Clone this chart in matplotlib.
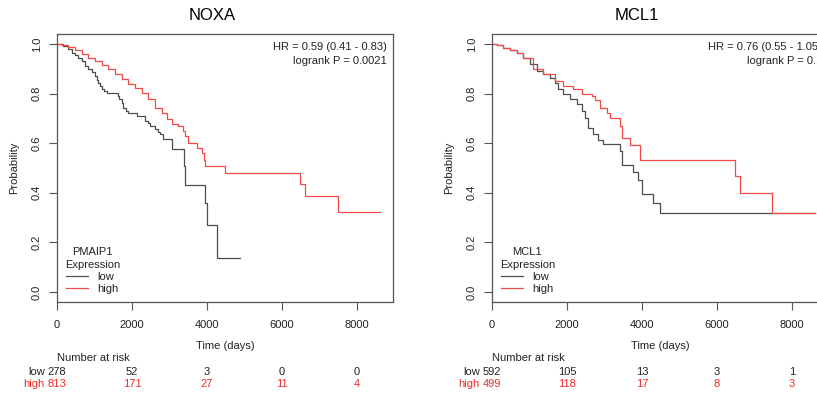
import numpy as np
import matplotlib
matplotlib.use("Agg")
import matplotlib.pyplot as plt
import matplotlib.transforms as mtransforms

plt.rcParams['font.family'] = ['Liberation Sans', 'DejaVu Sans']

# ---- NOXA (PMAIP1) survival curves: time (days), survival probability ----
noxa_low_t = [0, 170, 300, 400, 480, 560, 658, 750, 836, 920, 1013, 1060, 1102, 1150, 1191,
              1260, 1324, 1636, 1660, 1720, 1769, 1850, 1902, 2124, 2347, 2420, 2480, 2613,
              2700, 2747, 2836, 3058, 3380, 3420, 3947, 3990, 4265, 4880]
noxa_low_s = [1.0, 0.99, 0.978, 0.965, 0.955, 0.945, 0.93, 0.912, 0.898, 0.885, 0.87, 0.855,
              0.843, 0.83, 0.817, 0.81, 0.804, 0.79, 0.777, 0.76, 0.743, 0.73, 0.722, 0.71,
              0.69, 0.68, 0.669, 0.656, 0.645, 0.636, 0.615, 0.575, 0.51, 0.433, 0.36, 0.271,
              0.136, 0.136]
noxa_high_t = [0, 125, 302, 480, 658, 836, 1013, 1191, 1369, 1547, 1725, 1902, 2080, 2258,
               2436, 2613, 2791, 2924, 3058, 3236, 3369, 3413, 3502, 3724, 3858, 3920, 3947,
               4470, 6470, 6600, 7480, 8613]
noxa_high_s = [1.0, 0.995, 0.988, 0.974, 0.961, 0.945, 0.931, 0.915, 0.898, 0.877, 0.857,
               0.837, 0.824, 0.804, 0.777, 0.743, 0.723, 0.696, 0.676, 0.669, 0.649, 0.629,
               0.601, 0.58, 0.56, 0.533, 0.509, 0.481, 0.434, 0.386, 0.322, 0.322]

# ---- MCL1 survival curves ----
mcl1_low_t = [0, 125, 302, 480, 658, 836, 1013, 1191, 1369, 1547, 1680, 1769, 1902, 2080,
              2258, 2391, 2480, 2569, 2702, 2836, 2969, 3413, 3470, 3769, 3902, 3991, 4290,
              4470, 8600]
mcl1_low_s = [1.0, 0.996, 0.985, 0.974, 0.965, 0.945, 0.918, 0.891, 0.877, 0.864, 0.844,
              0.817, 0.797, 0.777, 0.757, 0.73, 0.703, 0.662, 0.636, 0.614, 0.598, 0.567,
              0.511, 0.483, 0.45, 0.395, 0.36, 0.317, 0.317]
mcl1_high_t = [0, 125, 302, 480, 658, 836, 1102, 1369, 1680, 1902, 2169, 2391, 2658, 2747,
               2880, 3058, 3147, 3413, 3470, 3680, 3947, 6480, 6600, 7475, 8613]
mcl1_high_s = [1.0, 0.996, 0.985, 0.974, 0.963, 0.945, 0.898, 0.877, 0.851, 0.831, 0.817,
               0.797, 0.789, 0.775, 0.742, 0.722, 0.702, 0.668, 0.622, 0.592, 0.531, 0.466,
               0.398, 0.318, 0.318]

# ---- number at risk tables ----
risk_times = [0, 2000, 4000, 6000, 8000]
noxa_risk_low = [278, 52, 3, 0, 0]
noxa_risk_high = [813, 171, 27, 11, 4]
mcl1_risk_low = [592, 105, 13, 3, 1]
mcl1_risk_high = [499, 118, 17, 8, 3]

W, H = 817, 394
fig = plt.figure(figsize=(W / 100, H / 100), dpi=100)

GRAY = '#4d4d4d'
RED_LINE = '#f24a4a'
RED_TXT = '#ee2a2a'
AX_COL = '#555555'


def km_panel(left_px, title, title_x, low, high, gene, hr, pval, risk_low, risk_high):
    ax = fig.add_axes([left_px / W, (H - 302) / H, 336 / W, 268 / H])
    l1, = ax.step(low[0], low[1], where='post', color=GRAY, lw=0.9)
    l2, = ax.step(high[0], high[1], where='post', color=RED_LINE, lw=0.9)
    ax.set_xlim(0, 8960)
    ax.set_ylim(-0.04, 1.04)
    ax.set_xticks(risk_times)
    ax.set_yticks([0, 0.2, 0.4, 0.6, 0.8, 1.0])
    ax.set_yticklabels(['0.0', '0.2', '0.4', '0.6', '0.8', '1.0'], rotation=90, va='center')
    ax.tick_params(length=6, width=0.8, color=AX_COL, labelsize=8, labelcolor='#222222', pad=7)
    ax.tick_params(axis='y', pad=5)
    for sp in ax.spines.values():
        sp.set_color(AX_COL)
        sp.set_linewidth(0.9)
    ax.set_ylabel('Probability', fontsize=8, color='#222222', labelpad=9)
    ax.text(0.982, 0.95, hr, transform=ax.transAxes, ha='right', va='center', fontsize=8, color='#222222')
    ax.text(0.982, 0.901, pval, transform=ax.transAxes, ha='right', va='center', fontsize=8, color='#222222')
    leg = ax.legend([l1, l2], ['low', 'high'], title=gene + '\nExpression', loc='lower left',
                    bbox_to_anchor=(0.0, 0.0), frameon=False, fontsize=8, title_fontsize=8,
                    handlelength=2.0, handletextpad=0.8, labelspacing=0.2, borderaxespad=0.3,
                    alignment='center')
    leg.get_title().set_color('#222222')
    leg.get_title().set_multialignment('center')
    leg.get_title().set_linespacing(1.3)
    for t in leg.get_texts():
        t.set_color('#222222')

    tr = mtransforms.blended_transform_factory(ax.transData, fig.transFigure)
    ax.text(4480, 1 - 346 / H, 'Time (days)', transform=tr, ha='center', va='center', fontsize=8, color='#222222')
    ax.text(0, 1 - 358 / H, 'Number at risk', transform=tr, ha='left', va='center', fontsize=8, color='#222222')
    ax.text(-330, 1 - 372 / H, 'low', transform=tr, ha='right', va='center', fontsize=8, color='#222222')
    ax.text(-330, 1 - 384 / H, 'high', transform=tr, ha='right', va='center', fontsize=8, color=RED_TXT)
    for x, a, b in zip(risk_times, risk_low, risk_high):
        ax.text(x, 1 - 372 / H, str(a), transform=tr, ha='center', va='center', fontsize=8, color='#222222')
        ax.text(x, 1 - 384 / H, str(b), transform=tr, ha='center', va='center', fontsize=8, color=RED_TXT)

    fig.text(title_x / W, 1 - 16 / H, title, ha='center', va='center', fontsize=12, color='black')
    return ax


km_panel(57, 'NOXA', 212, (noxa_low_t, noxa_low_s), (noxa_high_t, noxa_high_s), 'PMAIP1',
         'HR = 0.59 (0.41 - 0.83)', 'logrank P = 0.0021', noxa_risk_low, noxa_risk_high)
km_panel(492, 'MCL1', 637, (mcl1_low_t, mcl1_low_s), (mcl1_high_t, mcl1_high_s), 'MCL1',
         'HR = 0.76 (0.55 - 1.05)', 'logrank P = 0.1', mcl1_risk_low, mcl1_risk_high)

fig.savefig('out.png', dpi=100)
